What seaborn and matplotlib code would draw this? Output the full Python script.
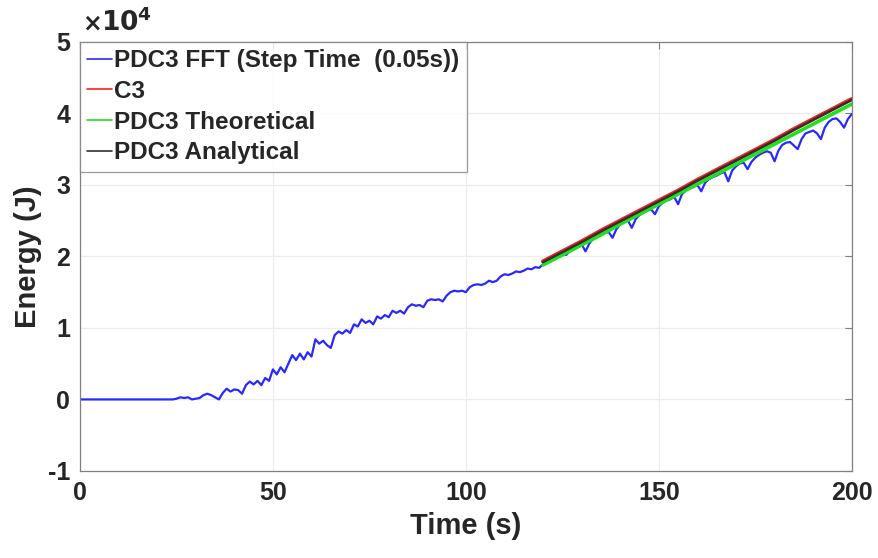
import numpy as np
import pandas as pd
import matplotlib
matplotlib.use("Agg")
import matplotlib.pyplot as plt
import seaborn as sns

# time grid (s), sampled once per second
time_fft = np.arange(0, 201, 1)
# energy values in units of 1e4 J
energy_fft = [
    0.00, 0.00, 0.00, 0.00, 0.00, 0.00, 0.00, 0.00, 0.00, 0.00,
    0.00, 0.00, 0.00, 0.00, 0.00, 0.00, 0.00, 0.00, 0.00, 0.00,
    0.00, 0.00, 0.00, 0.00,
    0.00, 0.01, 0.03, 0.02, 0.03, 0.00, 0.01, 0.02, 0.06, 0.08,
    0.06, 0.03, 0.00, 0.09, 0.15, 0.11, 0.14, 0.13, 0.08, 0.20,
    0.25, 0.21, 0.26, 0.20, 0.30, 0.26, 0.42, 0.35, 0.45, 0.38,
    0.50, 0.62, 0.55, 0.64, 0.56, 0.66, 0.60, 0.84, 0.78, 0.82,
    0.76, 0.72, 0.90, 0.95, 0.92, 0.97, 0.93, 1.05, 1.02, 1.12,
    1.07, 1.10, 1.05, 1.16, 1.13, 1.18, 1.15, 1.24, 1.21, 1.24,
    1.20, 1.29, 1.33, 1.31, 1.32, 1.29, 1.38, 1.40, 1.39, 1.40,
    1.37, 1.45, 1.50, 1.52, 1.51, 1.52, 1.50, 1.57, 1.60, 1.61,
    1.60, 1.62, 1.66, 1.64, 1.66, 1.72, 1.75, 1.74, 1.76, 1.79,
    1.78, 1.80, 1.83, 1.82, 1.85, 1.84, 1.89,
    1.92, 1.95, 1.97, 2.00, 2.03, 2.02, 2.08, 2.12, 2.15, 2.17,
    2.07, 2.18, 2.25, 2.28, 2.31, 2.33, 2.34, 2.26, 2.38, 2.45,
    2.48, 2.50, 2.40, 2.52, 2.58, 2.61, 2.64, 2.66, 2.59, 2.70,
    2.75, 2.78, 2.80, 2.83, 2.73, 2.87, 2.92, 2.95, 2.97, 3.00,
    2.91, 3.03, 3.08, 3.11, 3.13, 3.16, 3.18, 3.05, 3.20, 3.26,
    3.30, 3.31, 3.22, 3.32, 3.38, 3.42, 3.45, 3.47, 3.45, 3.33,
    3.48, 3.56, 3.59, 3.60, 3.55, 3.50, 3.64, 3.72, 3.74, 3.76,
    3.72, 3.64, 3.80, 3.88, 3.92, 3.93, 3.88, 3.80, 3.92, 3.99,
]

time_model = [120, 125, 130, 135, 140, 145, 150, 155, 160, 165,
              170, 175, 180, 185, 190, 195, 200]
energy_c3 = [1.93, 2.07, 2.21, 2.36, 2.50, 2.64, 2.78, 2.92, 3.07, 3.21,
             3.35, 3.49, 3.63, 3.78, 3.92, 4.06, 4.20]
energy_theory = [1.88, 2.02, 2.16, 2.30, 2.45, 2.59, 2.73, 2.87, 3.01, 3.15,
                 3.29, 3.43, 3.57, 3.71, 3.85, 3.99, 4.13]
energy_analytic = [1.92, 2.06, 2.20, 2.35, 2.49, 2.63, 2.77, 2.91, 3.06, 3.20,
                   3.34, 3.48, 3.62, 3.77, 3.91, 4.05, 4.19]

sns.set_style("white")
plt.rcParams["font.family"] = ["Liberation Sans", "DejaVu Sans"]
plt.rcParams["font.weight"] = "bold"
plt.rcParams["axes.unicode_minus"] = False

fig = plt.figure(figsize=(8.79, 5.58), dpi=100)
ax = fig.add_axes([0.091, 0.156, 0.878, 0.769])

sns.lineplot(x=time_fft, y=energy_fft, ax=ax, color="#2828ff", lw=1.6,
             label="PDC3 FFT (Step Time  (0.05s))")
sns.lineplot(x=time_model, y=energy_c3, ax=ax, color="#ff2020", lw=3.0, label="C3")
sns.lineplot(x=time_model, y=energy_theory, ax=ax, color="#20e020", lw=2.6,
             label="PDC3 Theoretical")
sns.lineplot(x=time_model, y=energy_analytic, ax=ax, color="#303030", lw=1.8,
             label="PDC3 Analytical")

ax.set_xlim(0, 200)
ax.set_ylim(-1, 5)
ax.set_xticks([0, 50, 100, 150, 200])
ax.set_yticks([-1, 0, 1, 2, 3, 4, 5])
ax.grid(True, color="#ececec", lw=0.9)
for s in ax.spines.values():
    s.set_color("#808080")
    s.set_linewidth(0.9)
ax.tick_params(axis="both", direction="in", length=5, color="#808080",
               labelsize=18, top=True, right=True, pad=7)
for lab in ax.get_xticklabels() + ax.get_yticklabels():
    lab.set_fontweight("bold")

ax.set_xlabel("Time (s)", fontsize=21, fontweight="bold", labelpad=5)
ax.set_ylabel("Energy (J)", fontsize=21, fontweight="bold", labelpad=4)
fig.text(0.093, 0.945, r"$\times$", fontsize=17, fontweight="normal")
fig.text(0.115, 0.945, r"$\mathbf{10^{4}}$", fontsize=19)

leg = ax.legend(loc="upper left", frameon=True, fancybox=False,
                prop={"weight": "bold", "size": 17.5},
                handlelength=1.0, handletextpad=0.1, borderaxespad=0.0,
                borderpad=0.3, labelspacing=0.32)
leg.get_frame().set_edgecolor("#808080")
leg.get_frame().set_linewidth(0.9)
for h in leg.get_lines():
    h.set_linewidth(1.2)

fig.savefig("out.png", dpi=100)
